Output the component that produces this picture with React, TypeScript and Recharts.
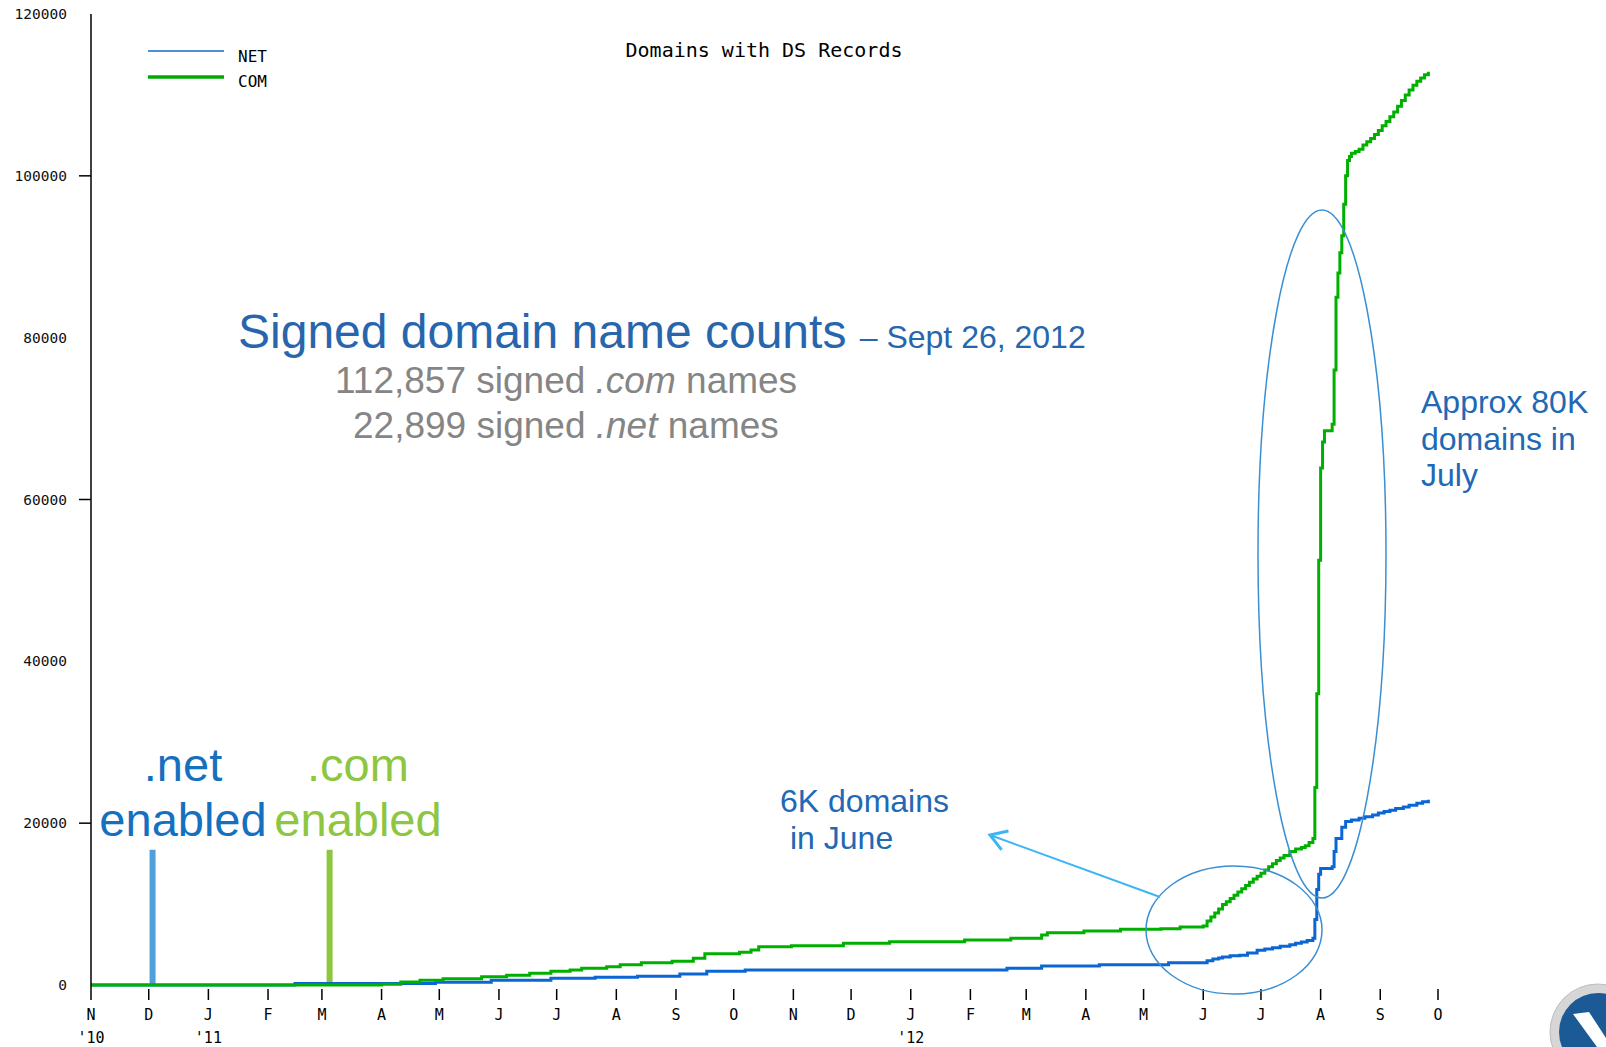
import React from "react";
import { LineChart, Line, XAxis, YAxis, ReferenceLine } from "recharts";

// signed names per day (date, count)
const NET_POINTS: [string, number][] = [
  ["2010-11-01", 0],
  ["2011-02-15", 200],
  ["2011-04-29", 330],
  ["2011-05-28", 580],
  ["2011-06-28", 830],
  ["2011-07-21", 950],
  ["2011-08-12", 1080],
  ["2011-09-03", 1360],
  ["2011-09-17", 1690],
  ["2011-10-07", 1850],
  ["2012-02-20", 2060],
  ["2012-03-09", 2350],
  ["2012-04-08", 2510],
  ["2012-05-14", 2760],
  ["2012-06-03", 2990],
  ["2012-06-06", 3200],
  ["2012-06-09", 3350],
  ["2012-06-11", 3460],
  ["2012-06-15", 3600],
  ["2012-06-20", 3680],
  ["2012-06-24", 3950],
  ["2012-06-29", 4290],
  ["2012-07-03", 4450],
  ["2012-07-07", 4610],
  ["2012-07-11", 4780],
  ["2012-07-16", 4980],
  ["2012-07-19", 5150],
  ["2012-07-22", 5310],
  ["2012-07-25", 5500],
  ["2012-07-28", 5770],
  ["2012-07-29", 8100],
  ["2012-07-30", 11800],
  ["2012-07-31", 13700],
  ["2012-08-01", 14400],
  ["2012-08-07", 14600],
  ["2012-08-08", 16500],
  ["2012-08-09", 18100],
  ["2012-08-12", 19500],
  ["2012-08-14", 20200],
  ["2012-08-17", 20400],
  ["2012-08-21", 20600],
  ["2012-08-24", 20800],
  ["2012-08-28", 21000],
  ["2012-08-31", 21250],
  ["2012-09-03", 21450],
  ["2012-09-06", 21600],
  ["2012-09-09", 21800],
  ["2012-09-13", 22000],
  ["2012-09-16", 22200],
  ["2012-09-20", 22450],
  ["2012-09-23", 22650],
  ["2012-09-26", 22899],
];

const COM_POINTS: [string, number][] = [
  ["2010-11-01", 0],
  ["2011-04-01", 80],
  ["2011-04-11", 370],
  ["2011-04-21", 580],
  ["2011-05-03", 780],
  ["2011-05-23", 1030],
  ["2011-06-05", 1200],
  ["2011-06-17", 1440],
  ["2011-06-28", 1690],
  ["2011-07-08", 1850],
  ["2011-07-14", 2060],
  ["2011-07-27", 2260],
  ["2011-08-03", 2510],
  ["2011-08-14", 2760],
  ["2011-08-30", 2930],
  ["2011-09-10", 3300],
  ["2011-09-16", 3870],
  ["2011-10-04", 4040],
  ["2011-10-10", 4330],
  ["2011-10-14", 4730],
  ["2011-10-31", 4860],
  ["2011-11-27", 5150],
  ["2011-12-21", 5350],
  ["2012-01-29", 5560],
  ["2012-02-22", 5770],
  ["2012-03-09", 6180],
  ["2012-03-12", 6470],
  ["2012-03-31", 6680],
  ["2012-04-19", 6880],
  ["2012-05-10", 6960],
  ["2012-05-20", 7170],
  ["2012-06-01", 7300],
  ["2012-06-03", 7900],
  ["2012-06-05", 8400],
  ["2012-06-07", 8900],
  ["2012-06-09", 9400],
  ["2012-06-11", 9960],
  ["2012-06-13", 10300],
  ["2012-06-15", 10700],
  ["2012-06-17", 11100],
  ["2012-06-19", 11500],
  ["2012-06-21", 11900],
  ["2012-06-23", 12300],
  ["2012-06-25", 12700],
  ["2012-06-27", 13100],
  ["2012-06-29", 13450],
  ["2012-07-01", 13800],
  ["2012-07-03", 14200],
  ["2012-07-05", 14600],
  ["2012-07-07", 15000],
  ["2012-07-09", 15400],
  ["2012-07-11", 15700],
  ["2012-07-13", 16000],
  ["2012-07-16", 16500],
  ["2012-07-19", 16800],
  ["2012-07-22", 17000],
  ["2012-07-24", 17200],
  ["2012-07-26", 17600],
  ["2012-07-28", 18100],
  ["2012-07-29", 24400],
  ["2012-07-30", 36000],
  ["2012-07-31", 52500],
  ["2012-08-01", 63900],
  ["2012-08-02", 67100],
  ["2012-08-03", 68500],
  ["2012-08-07", 69300],
  ["2012-08-08", 76000],
  ["2012-08-09", 85000],
  ["2012-08-10", 88000],
  ["2012-08-11", 90500],
  ["2012-08-12", 92600],
  ["2012-08-13", 96500],
  ["2012-08-14", 100000],
  ["2012-08-15", 101900],
  ["2012-08-16", 102400],
  ["2012-08-17", 102800],
  ["2012-08-19", 103000],
  ["2012-08-21", 103300],
  ["2012-08-23", 103800],
  ["2012-08-25", 104200],
  ["2012-08-27", 104600],
  ["2012-08-29", 105100],
  ["2012-08-31", 105600],
  ["2012-09-02", 106200],
  ["2012-09-04", 106700],
  ["2012-09-06", 107300],
  ["2012-09-08", 107900],
  ["2012-09-10", 108600],
  ["2012-09-12", 109300],
  ["2012-09-14", 110000],
  ["2012-09-16", 110600],
  ["2012-09-18", 111200],
  ["2012-09-20", 111700],
  ["2012-09-22", 112100],
  ["2012-09-24", 112500],
  ["2012-09-26", 112857],
];

const MONTH_STARTS = [
  "2010-11-01", "2010-12-01", "2011-01-01", "2011-02-01", "2011-03-01", "2011-04-01",
  "2011-05-01", "2011-06-01", "2011-07-01", "2011-08-01", "2011-09-01", "2011-10-01",
  "2011-11-01", "2011-12-01", "2012-01-01", "2012-02-01", "2012-03-01", "2012-04-01",
  "2012-05-01", "2012-06-01", "2012-07-01", "2012-08-01", "2012-09-01", "2012-10-01",
];
const MONTH_LABELS = ["N", "D", "J", "F", "M", "A", "M", "J", "J", "A", "S", "O", "N", "D", "J", "F", "M", "A", "M", "J", "J", "A", "S", "O"];
const YEAR_LABELS: Record<number, string> = { 0: "'10", 2: "'11", 14: "'12" };

const Y_TICKS = [0, 20000, 40000, 60000, 80000, 100000, 120000];
const Y_TICK_MARKS = [20000, 60000, 100000];

const NET_ENABLED = "2010-12-03";
const COM_ENABLED = "2011-03-05";
const ENABLED_BAR_TOP = 16700;

const START = Date.parse("2010-11-01");
const dayOf = (s: string) => Math.round((Date.parse(s) - START) / 86400000);
const toSeries = (pts: [string, number][]) => pts.map(([d, v]) => ({ d: dayOf(d), v }));

const netData = toSeries(NET_POINTS);
const comData = toSeries(COM_POINTS);
const monthTicks = MONTH_STARTS.map(dayOf);

const MONO = "'DejaVu Sans Mono', monospace";
const SANS = "'Liberation Sans', Arial, sans-serif";

function MonthTick(props: any) {
  const { x, y, index } = props;
  return (
    <g>
      <line x1={x} x2={x} y1={index === 0 ? y : y + 4} y2={y + 15} stroke="#000" strokeWidth={1.5} />
      <text x={x} y={y + 35} textAnchor="middle" fontFamily={MONO} fontSize={15} fill="#000">
        {MONTH_LABELS[index]}
      </text>
      {YEAR_LABELS[index] && (
        <text x={x} y={y + 58} textAnchor="middle" fontFamily={MONO} fontSize={15} fill="#000">
          {YEAR_LABELS[index]}
        </text>
      )}
    </g>
  );
}

function ValueTick(props: any) {
  const { x, y, payload } = props;
  const v = payload.value as number;
  return (
    <g>
      {Y_TICK_MARKS.includes(v) && <line x1={x} x2={x + 12} y1={y} y2={y} stroke="#000" strokeWidth={1.5} />}
      <text x={x - 12} y={y} dy={5} textAnchor="end" fontFamily={MONO} fontSize={14.5} fill="#111">
        {v}
      </text>
    </g>
  );
}

export default function App() {
  const netDay = dayOf(NET_ENABLED);
  const comDay = dayOf(COM_ENABLED);
  return (
    <div style={{ position: "relative", width: 1606, height: 1047, background: "#fff", overflow: "hidden" }}>
      <style>{`body{margin:0}`}</style>
      <LineChart width={1606} height={1047} margin={{ top: 14, right: 168, bottom: 0, left: 0 }}>
        <XAxis
          type="number"
          dataKey="d"
          domain={[0, 700]}
          ticks={monthTicks}
          interval={0}
          axisLine={false}
          tickLine={false}
          tickSize={0}
          tickMargin={0}
          height={62}
          allowDataOverflow
          tick={(p: any) => <MonthTick {...p} />}
        />
        <YAxis
          type="number"
          domain={[0, 120000]}
          ticks={Y_TICKS}
          interval={0}
          width={91}
          axisLine={{ stroke: "#000", strokeWidth: 1.5 }}
          tickLine={false}
          tickSize={12}
          tickMargin={0}
          tick={(p: any) => <ValueTick {...p} />}
        />
        <ReferenceLine segment={[{ x: netDay, y: 0 }, { x: netDay, y: ENABLED_BAR_TOP }]} stroke="#4f9fd8" strokeWidth={6} />
        <ReferenceLine segment={[{ x: comDay, y: 0 }, { x: comDay, y: ENABLED_BAR_TOP }]} stroke="#8dc641" strokeWidth={6} />
        <Line data={netData} dataKey="v" name="NET" type="stepAfter" stroke="#0a66d4" strokeWidth={3} dot={false} isAnimationActive={false} />
        <Line data={comData} dataKey="v" name="COM" type="stepAfter" stroke="#00b000" strokeWidth={3} dot={false} isAnimationActive={false} />
      </LineChart>

      <svg width={1606} height={1047} style={{ position: "absolute", left: 0, top: 0, pointerEvents: "none" }}>
        <defs>
          <marker id="head" markerUnits="userSpaceOnUse" markerWidth={30} markerHeight={30} refX={0} refY={0} orient="auto" viewBox="-20 -15 30 30" overflow="visible">
            <path d="M -16 -10 L 0 0 L -16 10" fill="none" stroke="#3db5f2" strokeWidth={3} />
          </marker>
        </defs>

        <text x={764} y={57} textAnchor="middle" fontFamily={MONO} fontSize={20} fill="#000">Domains with DS Records</text>

        <line x1={148} x2={224} y1={51} y2={51} stroke="#4a90d9" strokeWidth={2} />
        <text x={238} y={62} fontFamily={MONO} fontSize={16} fill="#000">NET</text>
        <line x1={148} x2={224} y1={77} y2={77} stroke="#00aa00" strokeWidth={3.5} />
        <text x={238} y={87} fontFamily={MONO} fontSize={16} fill="#000">COM</text>

        <text x={238} y={348} fontFamily={SANS} fill="#2766ad">
          <tspan fontSize={48}>Signed domain name counts </tspan>
          <tspan fontSize={32}>– Sept 26, 2012</tspan>
        </text>
        <text x={335} y={393} fontFamily={SANS} fontSize={37} fill="#858585">
          112,857 signed <tspan fontStyle="italic">.com</tspan> names
        </text>
        <text x={353} y={438} fontFamily={SANS} fontSize={37} fill="#858585">
          22,899 signed <tspan fontStyle="italic">.net</tspan> names
        </text>

        <text x={183} y={781} textAnchor="middle" fontFamily={SANS} fontSize={47} fill="#1670c0">.net</text>
        <text x={183} y={836} textAnchor="middle" fontFamily={SANS} fontSize={47} fill="#1670c0">enabled</text>
        <text x={358} y={781} textAnchor="middle" fontFamily={SANS} fontSize={47} fill="#8dc641">.com</text>
        <text x={358} y={836} textAnchor="middle" fontFamily={SANS} fontSize={47} fill="#8dc641">enabled</text>

        <text x={780} y={812} fontFamily={SANS} fontSize={32} fill="#2168b5">6K domains</text>
        <text x={790} y={849} fontFamily={SANS} fontSize={32} fill="#2168b5">in June</text>

        <text x={1421} y={413} fontFamily={SANS} fontSize={32} fill="#2168b5">Approx 80K</text>
        <text x={1421} y={450} fontFamily={SANS} fontSize={32} fill="#2168b5">domains in</text>
        <text x={1421} y={486} fontFamily={SANS} fontSize={32} fill="#2168b5">July</text>

        <ellipse cx={1234} cy={930} rx={88} ry={64} fill="none" stroke="#3a8fd3" strokeWidth={1.5} />
        <ellipse cx={1322} cy={554} rx={64} ry={344} fill="none" stroke="#3a8fd3" strokeWidth={1.5} />
        <line x1={1160} y1={897} x2={990} y2={835} stroke="#3db5f2" strokeWidth={2} markerEnd="url(#head)" />

        <circle cx={1598} cy={1032} r={48} fill="#d6d6d6" stroke="#bdbdbd" strokeWidth={1} />
        <circle cx={1598} cy={1032} r={39} fill="#1c5a96" />
        <polygon points="1573,1014 1589,1012 1606,1038 1606,1047 1597,1047" fill="#fff" />
      </svg>
    </div>
  );
}
